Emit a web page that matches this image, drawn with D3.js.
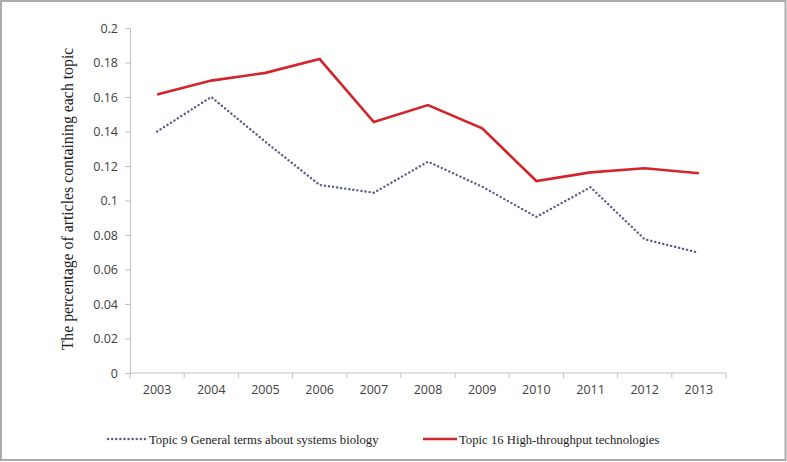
<!DOCTYPE html>
<html><head><meta charset="utf-8">
<script src="https://cdn.jsdelivr.net/npm/d3@7"></script>
<style>body{margin:0;background:#fff}svg{display:block}</style>
</head><body>
<script>
const years = ["2003","2004","2005","2006","2007","2008","2009","2010","2011","2012","2013"];
const topic9 = [0.140,0.160,0.134,0.109,0.1045,0.1225,0.108,0.0905,0.1077,0.0775,0.0697];
const topic16 = [0.1615,0.1695,0.174,0.182,0.1455,0.1553,0.1418,0.1113,0.1163,0.1187,0.1158];
const yTicks = [0,0.02,0.04,0.06,0.08,0.1,0.12,0.14,0.16,0.18,0.2];
const seriesNames = ["Topic 9 General terms about systems biology","Topic 16 High-throughput technologies"];

const W=787,H=462;
const svg=d3.select("body").append("svg").attr("width",W).attr("height",H);
svg.append("rect").attr("x",1).attr("y",1).attr("width",784.5).attr("height",459).attr("fill","#fff").attr("stroke","#ababab").attr("stroke-width",2);

const x=d3.scaleBand().domain(years).range([130,726]);
const y=d3.scaleLinear().domain([0,0.2]).range([373,28]);
const axisColor="#c0c0c0", labelColor="#404040", tickFont="'Open Sans', 'Noto Sans', sans-serif";

const yAxis=svg.append("g").attr("transform","translate(130,0)")
  .call(d3.axisLeft(y).tickValues(yTicks).tickSize(5).tickPadding(7).tickFormat(d=>d===0?"0":String(+d.toFixed(2))));
yAxis.select(".domain").attr("stroke",axisColor);
yAxis.selectAll(".tick line").attr("stroke",axisColor);
yAxis.selectAll("text").attr("fill",labelColor).style("font-family",tickFont).style("font-size","12.5px");

const xAxis=svg.append("g").attr("transform","translate(0,373)")
  .call(d3.axisBottom(x).tickSize(0).tickPadding(12));
xAxis.select(".domain").attr("stroke",axisColor).attr("d","M130,0H726");
xAxis.selectAll("text").attr("fill",labelColor).style("font-family",tickFont).style("font-size","12.5px");
// category boundary ticks
svg.append("g").selectAll("line").data(years.concat(["end"])).join("line")
  .attr("x1",(d,i)=>130+i*x.step()).attr("x2",(d,i)=>130+i*x.step())
  .attr("y1",373).attr("y2",378).attr("stroke",axisColor);

svg.append("text").attr("transform","translate(73,199) rotate(-90)")
  .attr("text-anchor","middle").attr("fill","#222")
  .style("font-family","'Liberation Serif','DejaVu Serif',serif").style("font-size","15.8px")
  .text("The percentage of articles containing each topic");

const cx=d=>x(d)+x.bandwidth()/2;
const line=d3.line().x((d,i)=>cx(years[i])).y(d=>y(d));
const blue="#5a5e8e", red="#d4242b";
svg.append("path").datum(topic9).attr("d",line).attr("fill","none").attr("stroke",blue)
  .attr("stroke-width",2.4).attr("stroke-dasharray","0.1,4").attr("stroke-linecap","round");
svg.append("path").datum(topic16).attr("d",line).attr("fill","none").attr("stroke",red)
  .attr("stroke-width",2.6).attr("stroke-linejoin","miter");

// legend
const lg=svg.append("g");
lg.append("line").attr("x1",108).attr("x2",145).attr("y1",439).attr("y2",439).attr("stroke",blue)
  .attr("stroke-width",2.4).attr("stroke-dasharray","0.1,4").attr("stroke-linecap","round");
lg.append("text").attr("x",149).attr("y",443.5).text(seriesNames[0]);
lg.append("line").attr("x1",423).attr("x2",457).attr("y1",439).attr("y2",439).attr("stroke",red).attr("stroke-width",2.6);
lg.append("text").attr("x",459).attr("y",443.5).text(seriesNames[1]);
lg.selectAll("text").attr("fill","#222").style("font-family","'Liberation Serif','DejaVu Serif',serif").style("font-size","12.7px");
</script>
</body></html>
